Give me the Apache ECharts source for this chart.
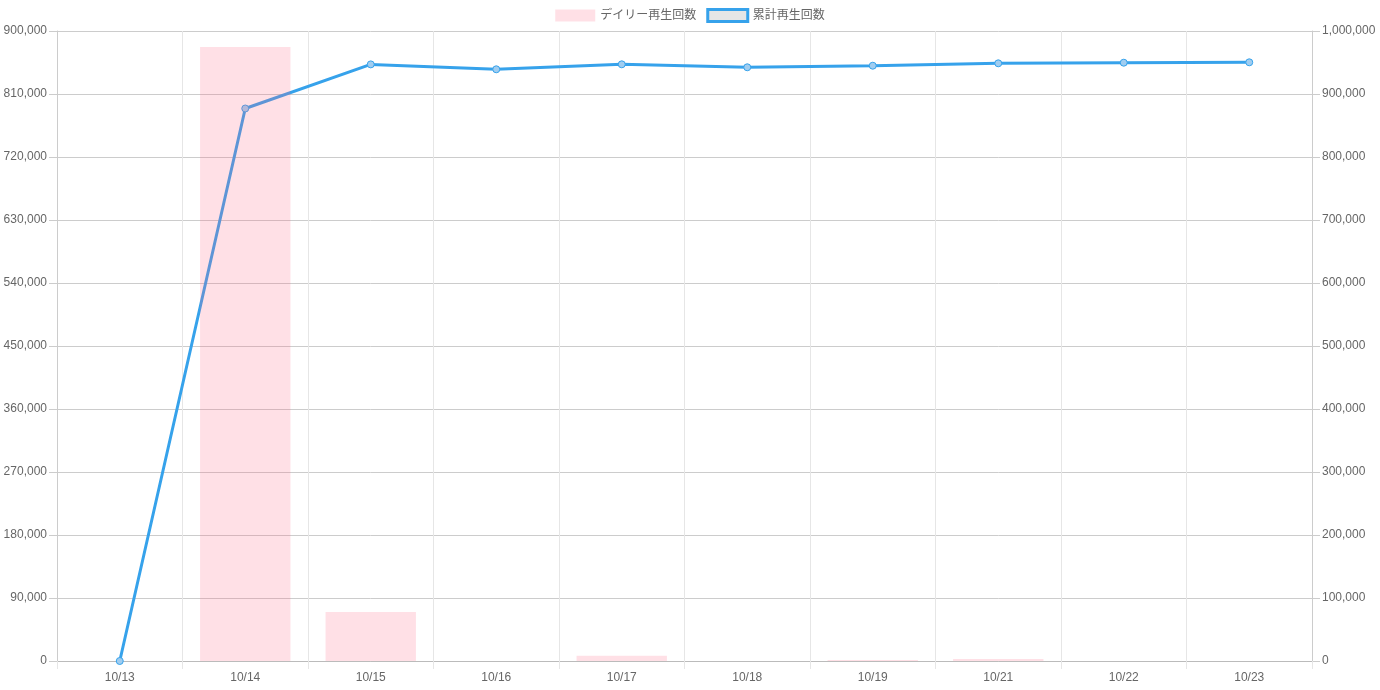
<!DOCTYPE html>
<html><head><meta charset="utf-8">
<script src="https://cdn.jsdelivr.net/npm/echarts@6/dist/echarts.min.js"></script>
<style>html,body{margin:0;padding:0;background:#fff}#c{width:1380px;height:690px}</style>
</head><body><div id="c"></div>
<script>
const categories = ['10/13','10/14','10/15','10/16','10/17','10/18','10/19','10/21','10/22','10/23'];
const dailyPlays = [0, 877000, 70000, 0, 7600, 0, 1400, 2800, 0, 0];
const totalPlays = [0, 877000, 947000, 939200, 947100, 942400, 944900, 948700, 949700, 950300];
const seriesNames = ['デイリー再生回数', '累計再生回数'];

const fontFam = '"Liberation Sans", Arial, "Noto Sans CJK JP", sans-serif';
const fmt = v => v.toLocaleString('en-US');
const chart = echarts.init(document.getElementById('c'));
chart.setOption({
  animation: false,
  textStyle: { fontFamily: fontFam, color: '#666', fontSize: 12 },
  legend: {
    top: 3, left: 'center', itemWidth: 40, itemHeight: 12, itemGap: 10,
    textStyle: { color: '#666', fontSize: 12, fontFamily: fontFam },
    data: [
      { name: seriesNames[0], icon: 'rect', itemStyle: { color: 'rgba(255,99,132,0.2)', borderWidth: 0 } },
      { name: seriesNames[1], icon: 'rect', itemStyle: { color: '#e6e6e6', borderColor: '#36A2EB', borderWidth: 3 } }
    ]
  },
  grid: { left: 57, right: 68, top: 31, bottom: 29, containLabel: false },
  xAxis: {
    type: 'category', data: categories, boundaryGap: true,
    axisLine: { lineStyle: { color: '#bbb' } },
    axisTick: { show: true, length: 8, lineStyle: { color: '#e6e6e6' } },
    axisLabel: { color: '#666', fontSize: 12, margin: 11 },
    splitLine: { show: true, lineStyle: { color: '#e6e6e6' } }
  },
  yAxis: [
    { type: 'value', min: 0, max: 900000, interval: 90000, position: 'left',
      axisLine: { show: true, lineStyle: { color: '#ccc' } },
      axisTick: { show: true, length: 8, lineStyle: { color: '#ccc' } },
      axisLabel: { color: '#666', fontSize: 12, margin: 10, formatter: fmt },
      splitLine: { show: true, lineStyle: { color: '#cccccc' } } },
    { type: 'value', min: 0, max: 1000000, interval: 100000, position: 'right',
      axisLine: { show: true, lineStyle: { color: '#ccc' } },
      axisTick: { show: true, length: 8, lineStyle: { color: '#ccc' } },
      axisLabel: { color: '#666', fontSize: 12, margin: 10, formatter: fmt },
      splitLine: { show: false } }
  ],
  series: [
    { name: seriesNames[0], type: 'bar', yAxisIndex: 0, data: dailyPlays, barWidth: '72%', z: 3,
      itemStyle: { color: 'rgba(255,99,132,0.2)' } },
    { name: seriesNames[1], type: 'line', yAxisIndex: 1, data: totalPlays, z: 2,
      symbol: 'circle', symbolSize: 7, showSymbol: true,
      lineStyle: { color: '#36A2EB', width: 3 },
      itemStyle: { color: 'rgba(160,205,240,1)', borderColor: '#36A2EB', borderWidth: 1 } }
  ]
});
</script></body></html>
